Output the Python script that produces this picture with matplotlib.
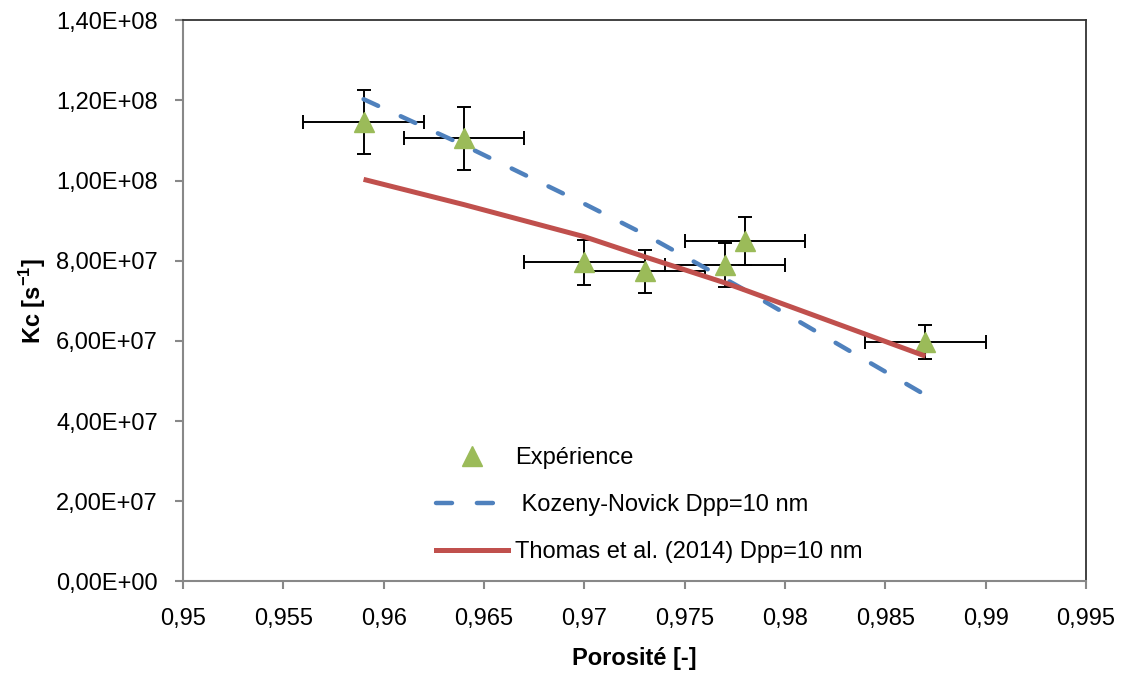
import numpy as np
import matplotlib
matplotlib.use('Agg')
import matplotlib.pyplot as plt
from matplotlib.ticker import FuncFormatter, MultipleLocator
from matplotlib.lines import Line2D

plt.rcParams['font.family'] = ['Liberation Sans', 'DejaVu Sans']
plt.rcParams['mathtext.fontset'] = 'custom'
plt.rcParams['mathtext.rm'] = 'Liberation Sans'
plt.rcParams['mathtext.bf'] = 'Liberation Sans:bold'

# porosité des essais
porosite = [0.959, 0.964, 0.970, 0.973, 0.977, 0.978, 0.987]
kc_exp = [1.145e8, 1.105e8, 7.96e7, 7.74e7, 7.89e7, 8.50e7, 5.98e7]
err_kc = [8.0e6, 7.8e6, 5.6e6, 5.4e6, 5.5e6, 6.0e6, 4.2e6]
err_por = [0.003] * 7

# modèles
kc_kozeny = [1.203e8, 1.088e8, 9.42e7, 8.66e7, 7.55e7, 7.27e7, 4.65e7]
kc_thomas = [1.003e8, 9.40e7, 8.60e7, 8.10e7, 7.45e7, 7.27e7, 5.62e7]

labels = ['Expérience', ' Kozeny-Novick Dpp=10 nm', 'Thomas et al. (2014) Dpp=10 nm']

fs = 17

fig = plt.figure(figsize=(11.33, 6.73), dpi=100)
ax = fig.add_axes([0.1615, 0.136, 0.797, 0.834])

ax.errorbar(porosite, kc_exp, yerr=err_kc, xerr=err_por, fmt='none',
            ecolor='black', elinewidth=1.4, capsize=5, capthick=1.4, zorder=2)
ax.plot(porosite, kc_exp, linestyle='none', marker='^', markersize=14,
        color='#9BBB59', zorder=4)
l_koz, = ax.plot(porosite, kc_kozeny, color='#4F81BD', lw=3.2,
                 dash_capstyle='round', zorder=3)
l_koz.set_dashes([3.6, 5.6])
ax.plot(porosite, kc_thomas, color='#C0504D', lw=3.6, zorder=5,
        solid_capstyle='butt')

ax.set_xlim(0.95, 0.995)
ax.set_ylim(0, 1.4e8)
ax.xaxis.set_major_locator(MultipleLocator(0.005))
ax.yaxis.set_major_locator(MultipleLocator(2e7))
ax.xaxis.set_major_formatter(FuncFormatter(lambda v, p: f"{round(v, 3):g}".replace('.', ',')))
ax.yaxis.set_major_formatter(FuncFormatter(lambda v, p: f"{v:.2E}".replace('.', ',')))

for s in ['left', 'bottom']:
    ax.spines[s].set_color('#888888')
    ax.spines[s].set_linewidth(1.5)
for s in ['top', 'right']:
    ax.spines[s].set_color('#333333')
    ax.spines[s].set_linewidth(1.3)
ax.tick_params(axis='both', direction='out', length=6, width=1.5, color='#888888',
               labelsize=fs, labelcolor='black')
ax.tick_params(axis='x', pad=13)
ax.tick_params(axis='y', pad=12)

ax.set_xlabel('Porosité [-]', fontsize=fs, fontweight='bold', labelpad=12)
ax.set_ylabel(r'Kc [s$^{\mathbf{-1}}$]', fontsize=fs, fontweight='bold', labelpad=6)

h_exp = Line2D([], [], linestyle='none', marker='^', markersize=14, color='#9BBB59')
h_koz = Line2D([], [], color='#4F81BD', lw=3.2, dash_capstyle='round')
h_koz.set_dashes([3.6, 5.6])
h_tho = Line2D([], [], color='#C0504D', lw=3.6)
ax.legend([h_exp, h_koz, h_tho], labels, loc='upper left',
          bbox_to_anchor=(0.267, 0.26), frameon=False, fontsize=fs,
          handlelength=3.05, handletextpad=0.3, labelspacing=1.05, borderpad=0)

fig.savefig('out.png', dpi=100)
